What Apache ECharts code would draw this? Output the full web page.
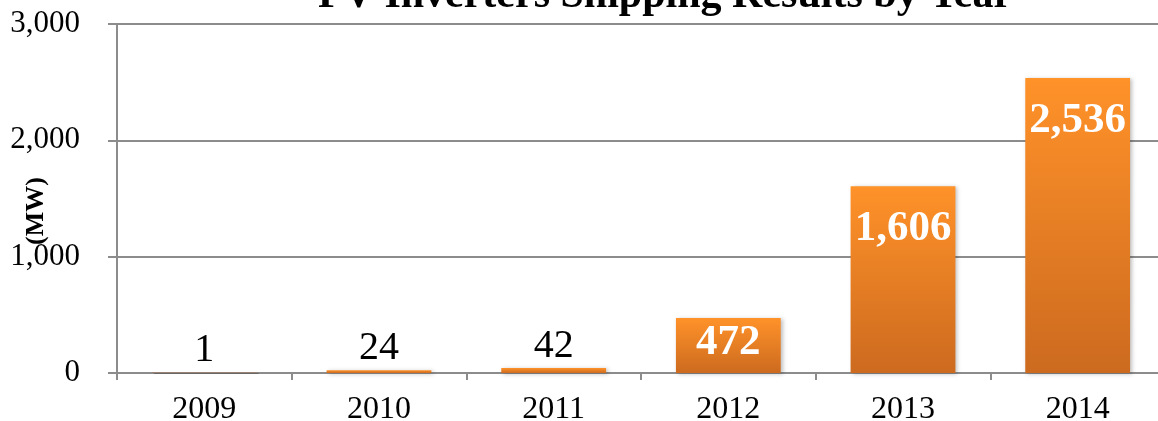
<!DOCTYPE html>
<html>
<head>
<meta charset="utf-8">
<script src="https://cdn.jsdelivr.net/npm/echarts@6/dist/echarts.min.js"></script>
<style>
  html, body { margin: 0; padding: 0; background: #fff; }
  #chart { width: 1158px; height: 421px; }
</style>
</head>
<body>
<div id="chart"></div>
<script>
// shipping results, MW
var years = ['2009', '2010', '2011', '2012', '2013', '2014'];
var shipped = [1, 24, 42, 472, 1606, 2536];
var insideFrom = 400; // values at/above this get the white label inside the bar

var serif = '"Liberation Serif", "Times New Roman", serif';

function fmt(v) {
  return String(v).replace(/\B(?=(\d{3})+(?!\d))/g, ',');
}

var barData = shipped.map(function(v, i) {
  var inside = v >= insideFrom;
  return {
    value: v,
    itemStyle: i === 0 ? { color: '#9a8070', shadowBlur: 0 } : undefined,
    label: inside ? {
      position: 'insideTop',
      // short bar: label hugs the top
      distance: v < 1000 ? 3 : 21,
      color: '#fff',
      fontWeight: 'bold',
      fontSize: 43
    } : {
      position: 'top',
      distance: 2,
      color: '#000',
      fontWeight: 'normal',
      fontSize: 40
    }
  };
});

var chart = echarts.init(document.getElementById('chart'));
chart.setOption({
  animation: false,
  title: {
    text: 'PV Inverters Shipping Results by Year',
    left: 660,
    textAlign: 'center',
    top: -30,
    textStyle: { fontFamily: serif, fontWeight: 'bold', fontSize: 42, color: '#000' }
  },
  graphic: [{
    type: 'text',
    x: 36,
    y: 211,
    rotation: Math.PI / 2,
    style: {
      text: '(MW)',
      font: 'bold 26px ' + serif,
      fill: '#000',
      align: 'center',
      verticalAlign: 'middle'
    }
  }],
  grid: { left: 117, right: -7, top: 24, bottom: 48, outerBoundsMode: 'none', containLabel: false },
  xAxis: {
    type: 'category',
    data: years,
    axisLine: { lineStyle: { color: '#8c8c8c', width: 2 } },
    axisTick: { show: true, length: 7, lineStyle: { color: '#8c8c8c', width: 2 } },
    axisLabel: { fontFamily: serif, fontSize: 32, color: '#000', margin: 21 }
  },
  yAxis: {
    type: 'value',
    min: 0,
    max: 3000,
    interval: 1000,
    axisLine: { show: true, lineStyle: { color: '#8c8c8c', width: 2 } },
    axisTick: { show: true, length: 9, lineStyle: { color: '#8c8c8c', width: 2 } },
    splitLine: { lineStyle: { color: '#8c8c8c', width: 2 } },
    axisLabel: {
      fontFamily: serif, fontSize: 31, color: '#000', margin: 37,
      formatter: function(v) { return fmt(v); }
    }
  },
  series: [{
    type: 'bar',
    data: barData,
    barWidth: '60%',
    barMinHeight: 1,
    itemStyle: {
      color: new echarts.graphic.LinearGradient(0, 0, 0, 1, [
        { offset: 0, color: '#ff9229' },
        { offset: 1, color: '#cc6a1f' }
      ]),
      shadowColor: 'rgba(0,0,0,0.25)',
      shadowBlur: 4,
      shadowOffsetX: 2,
      shadowOffsetY: 1
    },
    label: {
      show: true,
      fontFamily: serif,
      formatter: function(p) { return fmt(p.value); }
    }
  }]
});
</script>
</body>
</html>
